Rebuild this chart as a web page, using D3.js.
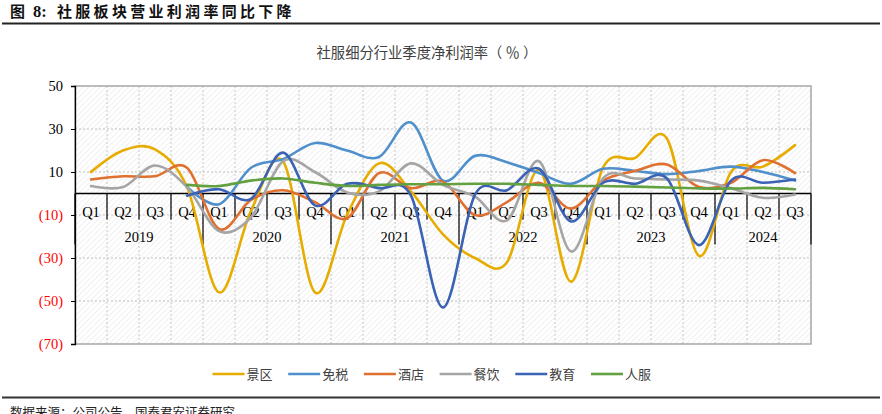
<!DOCTYPE html>
<html><head><meta charset="utf-8">
<script src="https://cdn.jsdelivr.net/npm/d3@7"></script>
<style>body{margin:0;background:#fff;} svg{display:block;}</style>
</head><body><svg id="c" width="882" height="414"></svg>
<script>
const quarterLabels = ["Q1","Q2","Q3","Q4","Q1","Q2","Q3","Q4","Q1","Q2","Q3","Q4","Q1","Q2","Q3","Q4","Q1","Q2","Q3","Q4","Q1","Q2","Q3"];
const years = ["2019","2020","2021","2022","2023","2024"];
const yearQuarterCounts = [4,4,4,4,4,3];
const seriesNames = ["景区","免税","酒店","餐饮","教育","人服"];
const scenic    = [10, 20, 20.5, 3, -46, -8, 15, -46, -10, 14, 1, -19, -30, -32, 11, -41, 12, 16.5, 25.5, -29, 10, 12.5, 22.5];
const dutyFree  = [null, null, null, 3, -5, 12, 16, 23.5, 20, 17, 33, 6, 17.5, 14.5, 9.5, 4.5, 11.5, 10.5, 9, 10.5, 12.5, 10, 6];
const hotel     = [6.5, 8, 8, 12, -16.5, -3, 1.5, -4, -11.5, 9.5, 2.5, 5.5, -10, -4, 5, -7, 6, 10.5, 13.5, 3, 5, 15.5, 9.5];
const catering  = [3.5, 3, 13, 3, -17.5, -11, 15, 10, 0.5, 1, 14, 4, -1.5, -12.5, 15, -27, 7, 7, 6.5, 6, 2.5, -2, -0.5];
const education = [null, null, null, -1, 2, -2.5, 19, -5.5, 4.5, 2.5, -1, -53, -0.5, 1.5, 11.5, -13, 5, 4.5, 7, -24, 6, 5, 6.5];
const personal  = [null, null, null, 4, 3.5, 6, 7, 5, 3.5, 4, 4.3, 4.3, 4.5, 4.5, 4, 3.5, 3.5, 3.2, 2.8, 2.4, 2.3, 2.6, 2];
const yTicks = [50, 30, 10, -10, -30, -50, -70];
const seriesValues = [scenic, dutyFree, hotel, catering, education, personal];
const colors = ["#E6AC00", "#4F8FCB", "#E0702F", "#A5A5A5", "#3A62B5", "#62A040"];

const svg = d3.select("#c");
const serif = "'Liberation Serif','Times New Roman',serif";
const cjk = "'Noto Sans CJK SC','Noto Sans',sans-serif";

svg.append("rect").attr("width",882).attr("height",414).attr("fill","#fff");

// title
svg.append("text").attr("x",10).attr("y",17).attr("font-weight","bold").attr("font-size",15)
  .attr("font-family",cjk).attr("fill","#111").text("图");
svg.append("text").attr("x",33).attr("y",17).attr("font-weight","bold").attr("font-size",16.5)
  .attr("font-family",serif).attr("fill","#111").text("8:");
svg.append("text").attr("x",57).attr("y",17).attr("font-weight","bold").attr("font-size",15)
  .attr("font-family",cjk).attr("letter-spacing",3.3).attr("fill","#111").text("社服板块营业利润率同比下降");
svg.append("line").attr("x1",2).attr("x2",880).attr("y1",23.5).attr("y2",23.5).attr("stroke","#222").attr("stroke-width",2.2);

// bottom rule + source
svg.append("line").attr("x1",2).attr("x2",880).attr("y1",397.5).attr("y2",397.5).attr("stroke","#333").attr("stroke-width",2);
svg.append("text").attr("x",10).attr("y",417).attr("font-family",cjk).attr("font-size",12.5).attr("fill","#222").text("数据来源：公司公告，国泰君安证券研究");

// chart title
svg.append("text").attr("x",427).attr("y",58).attr("text-anchor","middle").attr("font-family",cjk).attr("font-size",14.3).attr("fill","#404040").text("社服细分行业季度净利润率（ ％ ）");

const x = d3.scaleBand().domain(d3.range(quarterLabels.length)).range([75, 811]);
const y = d3.scaleLinear().domain([-70, 50]).range([344, 86]);

// hatch pattern
const defs = svg.append("defs");
const pat = defs.append("pattern").attr("id","hatch").attr("patternUnits","userSpaceOnUse")
  .attr("width",4).attr("height",4).attr("patternTransform","rotate(45)");
pat.append("line").attr("x1",0).attr("y1",0).attr("x2",0).attr("y2",4).attr("stroke","#e2e2e2").attr("stroke-width",1);

const x0 = x.range()[0], x1 = x.range()[1];
svg.append("rect").attr("x",x0).attr("y",y(50)).attr("width",x1-x0).attr("height",y(-70)-y(50)).attr("fill","url(#hatch)");

// grid
const g = svg.append("g");
g.selectAll(".hg").data(yTicks.filter(v => v !== 50 && v !== -70)).join("line")
  .attr("x1",x0).attr("x2",x1).attr("y1",d=>y(d)).attr("y2",d=>y(d))
  .attr("stroke","#bfbfbf").attr("stroke-width",1).attr("stroke-dasharray","2,2");
g.selectAll(".vg").data(d3.range(1, quarterLabels.length)).join("line")
  .attr("x1",d=>x(d)).attr("x2",d=>x(d)).attr("y1",y(50)).attr("y2",y(-70))
  .attr("stroke","#c8c8c8").attr("stroke-width",1).attr("stroke-dasharray","2,2");

// frame
svg.append("rect").attr("x",x0).attr("y",y(50)).attr("width",x1-x0).attr("height",y(-70)-y(50))
  .attr("fill","none").attr("stroke","#a6a6a6").attr("stroke-width",1.5);

// y axis
const yAxis = svg.append("g").attr("transform",`translate(${x0},0)`)
  .call(d3.axisLeft(y).tickValues(yTicks).tickSize(4).tickPadding(8).tickFormat(d => d < 0 ? `(${-d})` : d));
yAxis.select(".domain").attr("stroke","#000").attr("stroke-width",1.3);
yAxis.selectAll(".tick line").attr("stroke","#000");
yAxis.selectAll(".tick text").attr("font-family",serif).attr("font-size",14.5)
  .attr("fill", d => d < 0 ? "#ff0000" : "#000");

// x axis at zero
const zy = y(0);
svg.append("line").attr("x1",x0).attr("x2",x1).attr("y1",zy).attr("y2",zy).attr("stroke","#000").attr("stroke-width",1.3);
const yearBounds = [0];
yearQuarterCounts.forEach((c,i)=>yearBounds.push(yearBounds[i]+c));
const boundaryX = i => i >= quarterLabels.length ? x1 : x(i);
svg.selectAll(".qt").data(d3.range(1, quarterLabels.length).filter(i => !yearBounds.includes(i))).join("line")
  .attr("x1",d=>x(d)).attr("x2",d=>x(d)).attr("y1",zy).attr("y2",zy+26).attr("stroke","#000").attr("stroke-width",1.2);
svg.selectAll(".yt").data(yearBounds).join("line")
  .attr("x1",d=>boundaryX(d)).attr("x2",d=>boundaryX(d)).attr("y1",zy).attr("y2",zy+51).attr("stroke","#000").attr("stroke-width",1.2);
svg.selectAll(".ql").data(quarterLabels).join("text")
  .attr("x",(d,i)=>x(i)+x.bandwidth()/2).attr("y",zy+23).attr("text-anchor","middle")
  .attr("font-family",serif).attr("font-size",14.5).attr("fill","#000").text(d=>d);
svg.selectAll(".yl").data(years).join("text")
  .attr("x",(d,i)=>(boundaryX(yearBounds[i])+boundaryX(yearBounds[i+1]))/2).attr("y",zy+48).attr("text-anchor","middle")
  .attr("font-family",serif).attr("font-size",14.5).attr("fill","#000").text(d=>d);

// lines
const line = d3.line().defined(d => d != null)
  .x((d,i)=>x(i)+x.bandwidth()/2).y(d=>y(d)).curve(d3.curveCardinal.tension(0));
svg.append("g").selectAll("path").data(seriesValues).join("path")
  .attr("d", d=>line(d)).attr("fill","none").attr("stroke",(d,i)=>colors[i])
  .attr("stroke-width",2.6).attr("stroke-linejoin","round").attr("stroke-linecap","round");

// legend
const lg = svg.append("g").selectAll("g").data(seriesNames).join("g")
  .attr("transform",(d,i)=>`translate(${212.5 + i*75.7},374)`);
lg.append("line").attr("x1",0).attr("x2",32).attr("y1",0).attr("y2",0).attr("stroke",(d,i)=>colors[i]).attr("stroke-width",2.6);
lg.append("text").attr("x",34).attr("y",4.5).attr("font-family",cjk).attr("font-size",13).attr("fill","#404040").text(d=>d);
</script></body></html>
